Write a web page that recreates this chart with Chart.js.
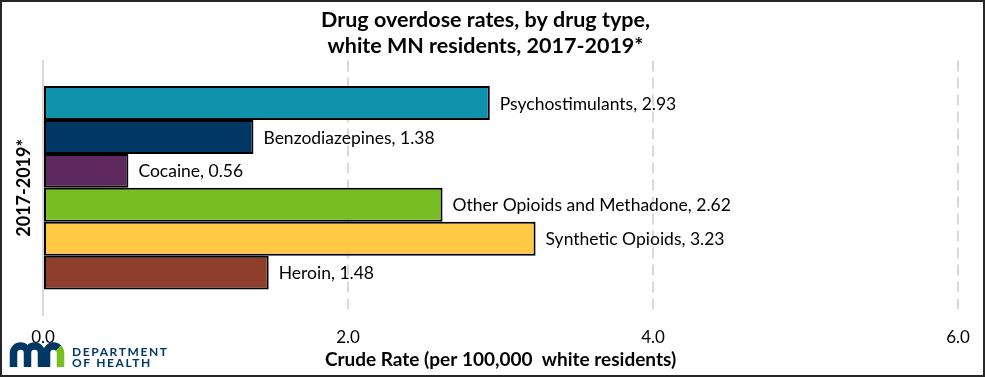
<!DOCTYPE html>
<html>
<head>
<meta charset="utf-8">
<script src="https://cdn.jsdelivr.net/npm/chart.js@4.4.1/dist/chart.umd.min.js"></script>
<style>
  html, body { margin: 0; padding: 0; background: #fff; }
  #wrap { width: 985px; height: 377px; position: relative; }
</style>
</head>
<body>
<div id="wrap"><canvas id="chart"></canvas></div>
<script>
// --- DATA ---
const categories = ['2017-2019*'];
const drugNames = ['Psychostimulants', 'Benzodiazepines', 'Cocaine', 'Other Opioids and Methadone', 'Synthetic Opioids', 'Heroin'];
const drugRates = [2.93, 1.38, 0.56, 2.62, 3.23, 1.48];
const drugColors = ['#0f93ad', '#003865', '#5d295f', '#78be21', '#ffc845', '#8d3f2b'];
const xTicks = [0, 2, 4, 6];

const FONT = 'Lato, "Open Sans", sans-serif';

// labels to the right of each bar
const barLabels = {
    id: 'barLabels',
    afterDatasetsDraw(chart) {
        const ctx = chart.ctx;
        ctx.save();
        ctx.font = '17.5px ' + FONT;
        ctx.fillStyle = '#000';
        ctx.textBaseline = 'middle';
        chart.data.datasets.forEach((ds, i) => {
            const bar = chart.getDatasetMeta(i).data[0];
            ctx.fillText(ds.label + ', ' + ds.data[0].toFixed(2), bar.x + 10, bar.y + 1);
        });
        ctx.restore();
    }
};

// outer frame + MDH logo
const frameAndLogo = {
    id: 'frameAndLogo',
    afterDraw(chart) {
        const ctx = chart.ctx;
        ctx.save();
        ctx.strokeStyle = '#262626';
        ctx.lineWidth = 2;
        ctx.strokeRect(1, 1, chart.width - 2, chart.height - 2);

        // "mn" mark
        ctx.lineWidth = 7.5;
        ctx.lineCap = 'butt';
        ctx.strokeStyle = '#003865';
        const base = 367, top = 353, r = 7;
        ctx.beginPath();
        ctx.moveTo(13.5, base);
        ctx.lineTo(13.5, top);
        ctx.arc(20.5, top, r, Math.PI, 0);
        ctx.lineTo(27.5, base);
        ctx.moveTo(27.5, top);
        ctx.arc(34.5, top, r, Math.PI, 0);
        ctx.lineTo(41.5, base);
        ctx.moveTo(46.5, base);
        ctx.lineTo(46.5, top);
        ctx.arc(53.5, top, r, Math.PI, 1.75 * Math.PI);
        ctx.stroke();
        ctx.strokeStyle = '#78be21';
        ctx.beginPath();
        ctx.arc(53.5, top, r, 1.75 * Math.PI, 0);
        ctx.lineTo(60.5, base);
        ctx.stroke();

        ctx.fillStyle = '#003865';
        ctx.font = 'bold 12px ' + FONT;
        ctx.textBaseline = 'alphabetic';
        if ('letterSpacing' in ctx) ctx.letterSpacing = '1.6px';
        ctx.fillText('DEPARTMENT', 72, 356);
        ctx.fillText('OF HEALTH', 72, 367);
        ctx.restore();
    }
};

const datasets = drugNames.map((name, i) => ({
    label: name,
    data: [drugRates[i]],
    backgroundColor: drugColors[i],
    borderColor: '#000',
    borderWidth: 2,
    borderSkipped: false,
    categoryPercentage: 0.8,
    barPercentage: 1.0
}));

new Chart(document.getElementById('chart'), {
    type: 'bar',
    data: { labels: categories, datasets: datasets },
    options: {
        indexAxis: 'y',
        responsive: true,
        maintainAspectRatio: false,
        animation: false,
        layout: { padding: { left: 13, right: 27, top: 4, bottom: 6 } },
        plugins: {
            legend: { display: false },
            tooltip: { enabled: false },
            title: {
                display: true,
                text: ['Drug overdose rates, by drug type,', 'white MN residents, 2017-2019*'],
                color: '#000',
                font: { family: FONT, size: 21.5, weight: 'bold', lineHeight: 1.2 },
                padding: { top: 3, bottom: 2 }
            }
        },
        scales: {
            x: {
                min: 0,
                max: 6,
                afterBuildTicks(scale) {
                    scale.ticks = xTicks.map(v => ({ value: v }));
                },
                ticks: {
                    color: '#000',
                    font: { family: FONT, size: 17 },
                    padding: 12,
                    callback: v => v.toFixed(1)
                },
                grid: {
                    color: '#d9d9d9',
                    lineWidth: 2,
                    drawTicks: false
                },
                border: { display: false, dash: [11, 6] },
                title: {
                    display: true,
                    text: 'Crude Rate (per 100,000  white residents)',
                    color: '#000',
                    font: { family: FONT, size: 19, weight: 'bold' },
                    padding: { top: 0, bottom: 0 }
                },
                afterFit(scale) { scale.height = 56; }
            },
            y: {
                ticks: { display: false },
                grid: { display: false },
                border: { display: true, color: '#d9d9d9', width: 2 },
                title: {
                    display: true,
                    text: '2017-2019*',
                    color: '#000',
                    font: { family: FONT, size: 18, weight: 'bold' },
                    padding: { top: 0, bottom: 8 }
                },
                afterFit(scale) { scale.width = 30; }
            }
        }
    },
    plugins: [barLabels, frameAndLogo]
});
</script>
</body>
</html>
